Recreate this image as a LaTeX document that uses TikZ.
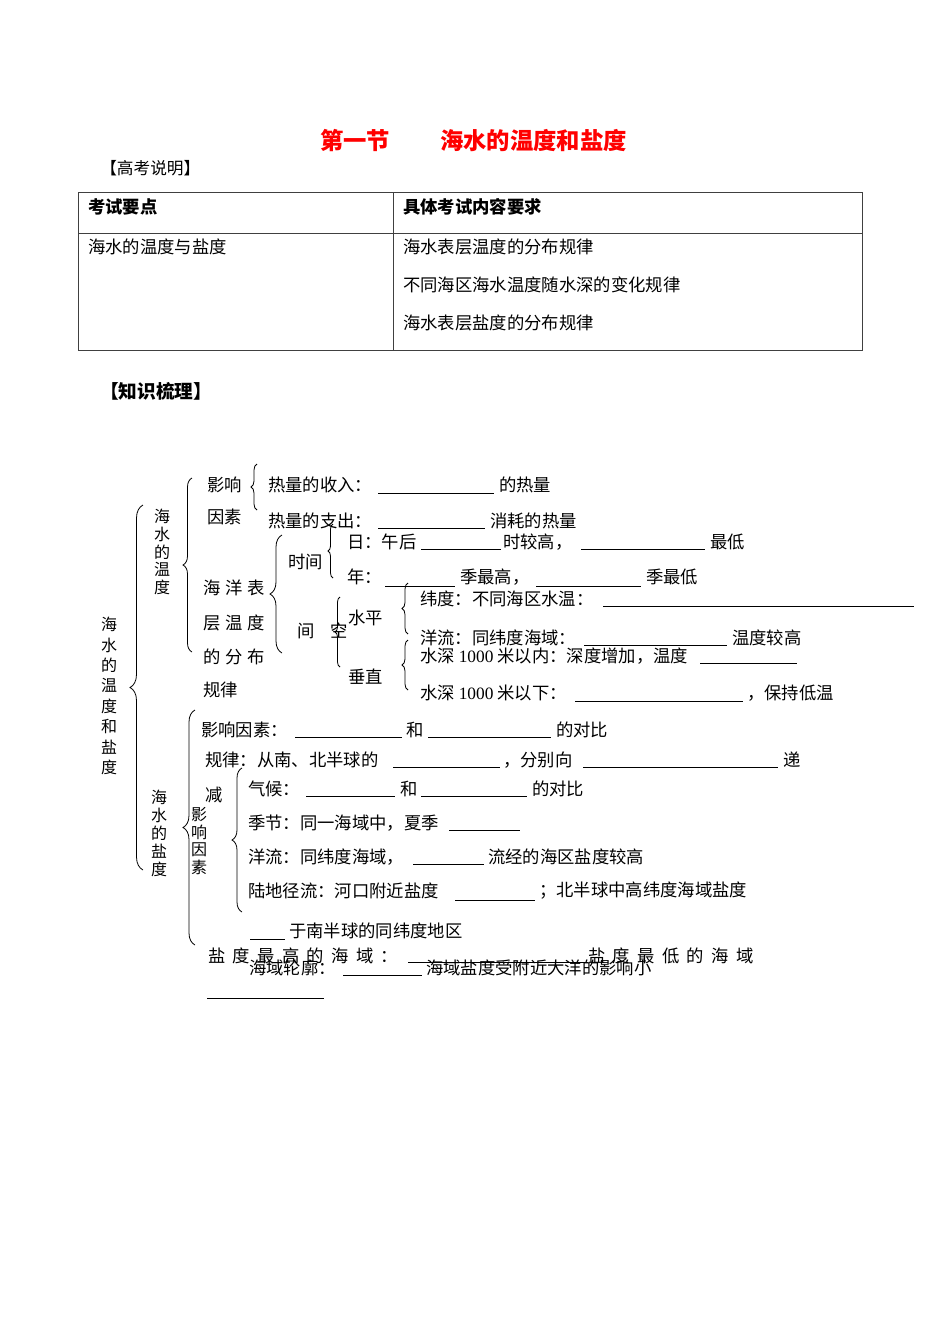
\documentclass[tikz,border=0pt]{standalone}
\usepackage{fontspec}
\setmainfont{Liberation Serif}
\newfontfamily\cjk{Noto Sans CJK SC}
\usetikzlibrary{decorations.pathreplacing}
\newcommand\gp{\hspace{5.5pt}}
\newcommand\hg{\hspace{3.4pt}}
\newcommand\lat[1]{{\rmfamily #1}}
\begin{document}
\begin{tikzpicture}[x=0.75pt,y=-0.75pt,
  txt/.style={anchor=west, inner sep=0pt, font=\cjk\fontsize{13}{15}\selectfont},
  bold/.style={anchor=west, inner sep=0pt, font=\cjk\bfseries\fontsize{13}{15}\selectfont},
  vtxt/.style={inner sep=0pt, align=center, font=\cjk\fontsize{12}{#1}\selectfont},
  ul/.style={line width=0.5pt},
  br/.style={decorate, decoration={brace, amplitude=#1}, line width=0.6pt},
  tbl/.style={line width=0.7pt, draw=black!75}]
\fill[white] (0,0) rectangle (950,1317);
\useasboundingbox (0,0) rectangle (950,1317);

% title
\node[anchor=west, inner sep=0pt, text=red, font=\cjk\bfseries\fontsize{17.5}{20}\selectfont] (t1) at (320,141) {第一节};
\node[anchor=west, inner sep=0pt, text=red, font=\cjk\bfseries\fontsize{17.5}{20}\selectfont] (t2) at (440,141) {海水的温度和盐度};
\node[anchor=west, inner sep=0pt, font=\cjk\fontsize{12.5}{15}\selectfont] (gk) at (100,168) {【高考说明】};

% table
\draw[tbl] (78,192) rectangle (862,350);
\draw[tbl] (78,233) -- (862,233);
\draw[tbl] (393,192) -- (393,350);
\node[bold] (h1) at (88,207) {考试要点};
\node[bold] (h2) at (403,207) {具体考试内容要求};
\node[txt] (c1) at (88,247) {海水的温度与盐度};
\node[txt] (c2) at (403,247) {海水表层温度的分布规律};
\node[txt] (c3) at (403,285) {不同海区海水温度随水深的变化规律};
\node[txt] (c4) at (403,323) {海水表层盐度的分布规律};

\node[anchor=west, inner sep=0pt, font=\cjk\bfseries\fontsize{14}{16}\selectfont] (zs) at (100,391) {【知识梳理】};

% temperature
\node[vtxt=15.3pt] (all) at (109,696) {海\\水\\的\\温\\度\\和\\盐\\度};
\draw[br=9.75pt] (143,870) -- (143,505);
\node[vtxt=13.3pt] (temp) at (162,552) {海\\水\\的\\温\\度};
\draw[br=6.75pt] (192,652) -- (192,478);
\node[txt] (yx1) at (207,485) {影响};
\node[txt] (yx2) at (207,517) {因素};
\draw[br=4.5pt] (257,510) -- (257,464);
\node[txt] (in1) at (268,485) {热量的收入：};
\draw[ul] (378,493) -- (494,493);
\node[txt] (in2) at (499,485) {的热量};
\node[txt] (out1) at (268,521) {热量的支出：};
\draw[ul] (378,528) -- (485,528);
\node[txt] (out2) at (490,521) {消耗的热量};

\node[txt] (hy1) at (203,588) {海\hg 洋\hg 表};
\node[txt] (hy2) at (203,623) {层\hg 温\hg 度};
\node[txt] (hy3) at (203,657) {的\hg 分\hg 布};
\node[txt] (hy4) at (203,690) {规律};
\draw[br=9pt] (282,653) -- (282,535);
\node[txt] (sj) at (288,562) {时间};
\draw[br=3.75pt] (333,578) -- (333,524);
\node[txt] (ri1) at (347,542) {日：午后};
\draw[ul] (421,549) -- (501,549);
\node[txt] (ri2) at (503,542) {时较高，};
\draw[ul] (581,549) -- (705,549);
\node[txt] (ri3) at (710,542) {最低};
\node[txt] (nian1) at (347,577) {年：};
\draw[ul] (385,586) -- (455,586);
\node[txt] (nian2) at (460,577) {季最高，};
\draw[ul] (536,586) -- (641,586);
\node[txt] (nian3) at (646,577) {季最低};
\node[txt] (jian) at (297,631) {间};
\node[txt] (kong) at (330,631) {空};
\draw[br=3.75pt] (340,667) -- (340,597);
\node[txt] (sp) at (348,618) {水平};
\node[txt] (cz) at (348,677) {垂直};
\draw[br=4.5pt] (408,634) -- (408,583);
\draw[br=4.5pt] (408,690) -- (408,640);
\node[txt] (wd) at (420,599) {纬度：不同海区水温：};
\draw[ul] (603,606) -- (914,606);
\node[txt] (yl1) at (420,638) {洋流：同纬度海域：};
\draw[ul] (584,645) -- (727,645);
\node[txt] (yl2) at (732,638) {温度较高};
\node[txt] (ss1) at (420,656) {水深 \lat{1000} 米以内：深度增加，温度};
\draw[ul] (700,663) -- (797,663);
\node[txt] (ss2) at (420,693) {水深 \lat{1000} 米以下：};
\draw[ul] (575,701) -- (743,701);
\node[txt] (ss3) at (747,693) {，保持低温};

% salinity
\node[vtxt=13.5pt] (salt) at (159,833) {海\\水\\的\\盐\\度};
\draw[br=9pt] (195,945) -- (195,710);
\node[txt] (yy1) at (201,730) {影响因素：};
\draw[ul] (295,737) -- (402,737);
\node[txt] (yy2) at (406,730) {和};
\draw[ul] (428,737) -- (551,737);
\node[txt] (yy3) at (556,730) {的对比};
\node[txt] (gl1) at (205,760) {规律：从南、北半球的};
\draw[ul] (393,767) -- (500,767);
\node[txt] (gl2) at (503,760) {，分别向};
\draw[ul] (583,767) -- (778,767);
\node[txt] (gl3) at (783,760) {递};
\node[txt] (jian2) at (205,795) {减};
\node[vtxt=13.3pt] (yxys) at (199,841) {影\\响\\因\\素};
\draw[br=7.5pt] (242,912) -- (242,768);
\node[txt] (qh1) at (248,789) {气候：};
\draw[ul] (306,796) -- (395,796);
\node[txt] (qh2) at (400,789) {和};
\draw[ul] (421,796) -- (527,796);
\node[txt] (qh3) at (532,789) {的对比};
\node[txt] (jj1) at (248,823) {季节：同一海域中，夏季};
\draw[ul] (449,830) -- (520,830);
\node[txt] (yl3) at (248,857) {洋流：同纬度海域，};
\draw[ul] (413,864) -- (484,864);
\node[txt] (yl4) at (488,857) {流经的海区盐度较高};
\node[txt] (lj1) at (248,891) {陆地径流：河口附近盐度};
\draw[ul] (455,900) -- (535,900);
\node[txt] (lj2) at (539,891) {；北半球中高纬度海域盐度};
\draw[ul] (250,939) -- (285,939);
\node[txt] (nb) at (289,931) {于南半球的同纬度地区};
\node[txt] (zg) at (208,956) {盐\gp 度\gp 最\gp 高\gp 的\gp 海\gp 域\gp ：};
\draw[ul] (408,962) -- (588,962);
\node[txt] (lk) at (249,968) {海域轮廓：};
\draw[ul] (343,975) -- (422,975);
\node[txt] (lk2) at (426,968) {海域盐度受附近大洋的影响小};
\node[txt] (zd) at (588,956) {盐\gp 度\gp 最\gp 低\gp 的\gp 海\gp 域};
\draw[ul] (207,998) -- (324,998);
\end{tikzpicture}
\end{document}
